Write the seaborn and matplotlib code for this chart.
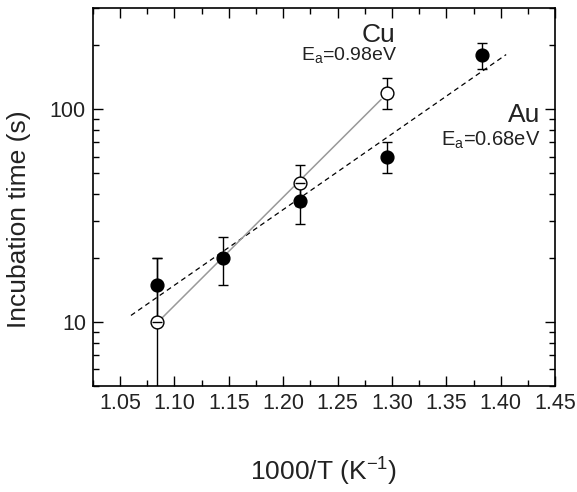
import numpy as np
import pandas as pd
import matplotlib
matplotlib.use("Agg")
import matplotlib.pyplot as plt
import seaborn as sns
from matplotlib.ticker import MultipleLocator, LogLocator, FormatStrFormatter, NullFormatter

# Au (filled) and Cu (open) incubation times vs 1000/T
inv_temp_au = [1.084, 1.145, 1.215, 1.295, 1.383]
time_au = [15, 20, 37, 60, 180]
err_au = [5, 5, 8, 10, 25]

inv_temp_cu = [1.084, 1.215, 1.295]
time_cu = [10, 45, 120]
err_cu = [9.9, 10, 20]

# x range over which each Arrhenius fit is drawn
fit_range_au = [1.06, 1.405]
fit_range_cu = [1.084, 1.29]


def fit_line(x, y, x_range):
    slope, icpt = np.polyfit(x, np.log10(y), 1)
    xs = np.array(x_range)
    return pd.DataFrame({'x': xs, 'y': 10 ** (icpt + slope * xs)})


sns.set_style("ticks")
plt.rcParams['font.family'] = ['Liberation Sans', 'DejaVu Sans']
plt.rcParams['mathtext.default'] = 'regular'

fig = plt.figure(figsize=(5.77, 4.92), dpi=100)
ax = fig.add_axes([0.161, 0.2154, 0.801, 0.7683])
ax.set_yscale('log')

# fit lines
sns.lineplot(data=fit_line(inv_temp_au, time_au, fit_range_au), x='x', y='y', ax=ax,
             color='black', lw=0.9, dashes=False, linestyle=(0, (4, 3)), zorder=2)
sns.lineplot(data=fit_line(inv_temp_cu, time_cu, fit_range_cu), x='x', y='y', ax=ax,
             color='#999999', lw=1.1, zorder=2)

# error bars
ax.errorbar(inv_temp_cu, time_cu, yerr=err_cu, fmt='none', ecolor='black',
            elinewidth=1, capsize=3.5, capthick=1, zorder=3)
eb = ax.errorbar(inv_temp_au, time_au, yerr=err_au, fmt='none', ecolor='black',
                 elinewidth=1, capsize=3.5, capthick=1, zorder=3)
for cap in eb[1]:
    cap.set_zorder(6)

# markers
sns.scatterplot(x=inv_temp_cu, y=time_cu, ax=ax, s=85, color='white',
                edgecolor='black', linewidth=1, zorder=5)
sns.scatterplot(x=inv_temp_au, y=time_au, ax=ax, s=85, color='black',
                edgecolor='black', linewidth=1, zorder=5)

ax.set_xlim(1.025, 1.45)
ax.set_ylim(5, 300)

ax.xaxis.set_major_locator(MultipleLocator(0.05))
ax.xaxis.set_minor_locator(MultipleLocator(0.025))
ax.xaxis.set_major_formatter(FormatStrFormatter('%.2f'))
ax.yaxis.set_major_locator(LogLocator(base=10))
ax.yaxis.set_minor_locator(LogLocator(base=10, subs=np.arange(2, 10)))
ax.yaxis.set_major_formatter(FormatStrFormatter('%d'))
ax.yaxis.set_minor_formatter(NullFormatter())

ax.tick_params(which='both', direction='in', top=True, right=True,
               width=1, color='black', labelsize=15.5, labelcolor='#222222')
ax.tick_params(which='major', length=7, pad=5)
ax.tick_params(which='minor', length=4)
for sp in ax.spines.values():
    sp.set_linewidth(1.2)
    sp.set_color('black')

ax.set_xlabel('1000/T (K$^{-1}$)', fontsize=19, labelpad=30, color='#222222')
ax.set_ylabel('Incubation time (s)', fontsize=19, color='#222222')
ax.yaxis.set_label_coords(-0.135, 0.442)

ax.text(1.272, 207, 'Cu', fontsize=19, ha='left', va='baseline', color='#222222')
ax.text(1.216, 170, 'E$_a$=0.98eV', fontsize=14, ha='left', va='baseline', color='#222222')
ax.text(1.407, 87, 'Au', fontsize=19, ha='left', va='baseline', color='#222222')
ax.text(1.345, 67.6, 'E$_a$=0.68eV', fontsize=14.5, ha='left', va='baseline', color='#222222')

fig.savefig('out.png', dpi=100)
